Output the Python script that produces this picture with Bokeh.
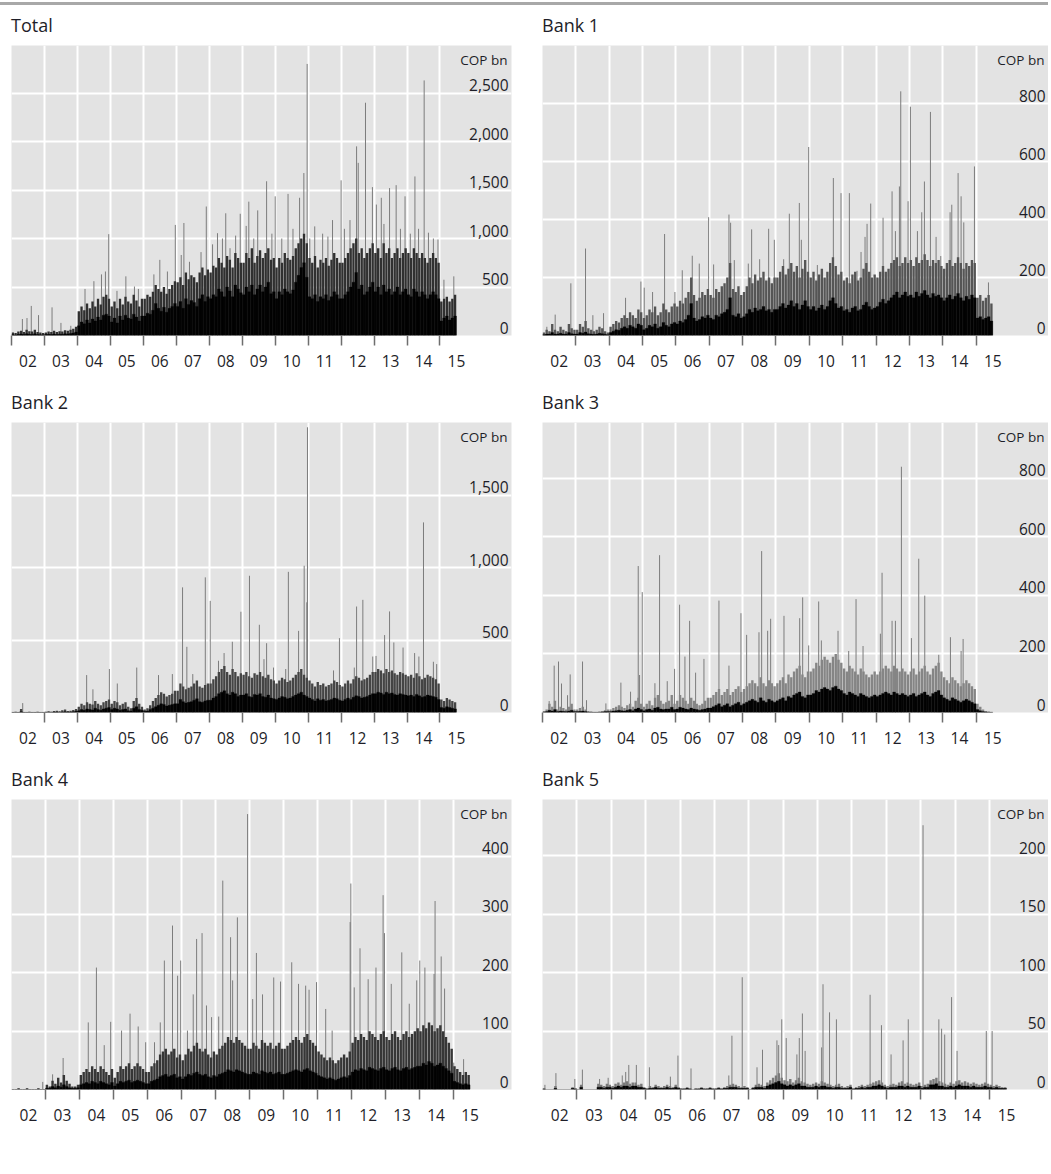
import numpy as np
from bokeh.plotting import figure
from bokeh.models import (Range1d, FixedTicker, LinearAxis, ColumnDataSource, Div)
from bokeh.layouts import column, row
from bokeh.core.properties import value
from bokeh.embed import file_html
from bokeh.resources import INLINE

# ---------------- data (COP bn), monthly Jan-2002 .. Jun-2015 ----------------
year_labels = ["02", "03", "04", "05", "06", "07", "08", "09", "10", "11", "12", "13", "14", "15"]
first_year = 2002

total_upper = [30, 25, 40, 50, 35, 60, 45, 40, 60, 35, 30, 25,
               30, 40, 35, 50, 35, 45, 40, 55, 50, 60, 70, 90,
               250, 300, 260, 330, 280, 350, 300, 380, 320, 400, 420, 380,
               300, 350, 280, 380, 320, 400, 350, 330, 420, 360, 300, 380,
               380, 420, 400, 450, 520, 480, 450, 500, 430, 480, 520, 560,
               550, 600, 520, 650, 580, 620, 600, 550, 650, 700, 620, 680,
               650, 720, 700, 800, 750, 700, 820, 780, 700, 850, 800, 750,
               750, 850, 800, 900, 750, 820, 880, 800, 850, 900, 780, 800,
               700, 800, 750, 850, 800, 780, 820, 900, 950, 1000, 1050, 950,
               800, 750, 820, 700, 780, 750, 800, 720, 780, 850, 800, 750,
               750, 800, 850, 900, 950, 1000, 850, 900, 800, 850, 900, 950,
               850, 900, 800, 950, 850, 900, 800, 850, 900, 800, 850, 900,
               850, 800, 900, 850, 800, 850, 800, 750, 800, 850, 800, 750,
               350, 380, 400, 350, 380, 420]
total_base = [8, 6, 12, 15, 10, 18, 12, 10, 18, 10, 8, 6,
              10, 12, 10, 15, 10, 14, 12, 18, 16, 20, 25, 35,
              100, 140, 120, 160, 130, 170, 150, 190, 160, 210, 220, 200,
              140, 180, 130, 200, 160, 210, 180, 170, 220, 190, 150, 200,
              200, 230, 220, 260, 330, 280, 250, 290, 240, 280, 300, 330,
              300, 350, 280, 380, 320, 360, 340, 300, 380, 420, 350, 400,
              380, 420, 400, 480, 450, 400, 500, 460, 400, 520, 480, 440,
              420, 500, 450, 520, 420, 480, 520, 450, 500, 550, 430, 450,
              380, 450, 420, 480, 450, 430, 470, 550, 620, 700, 750, 600,
              400, 380, 420, 350, 400, 380, 420, 360, 400, 450, 420, 380,
              380, 420, 450, 500, 550, 650, 480, 520, 420, 450, 500, 550,
              450, 500, 420, 520, 450, 480, 420, 450, 500, 420, 450, 480,
              420, 400, 480, 450, 400, 450, 420, 380, 420, 450, 420, 380,
              150, 180, 200, 160, 180, 200]
total_spike_t = [2002.33, 2002.47, 2002.60, 2002.82, 2003.23, 2003.50, 2003.80,
                 2004.23, 2004.50, 2004.73, 2004.85, 2004.95,
                 2005.20, 2005.47, 2005.73, 2005.85,
                 2006.32, 2006.50, 2006.73, 2006.97,
                 2007.15, 2007.23, 2007.40, 2007.75, 2007.91,
                 2008.10, 2008.25, 2008.40, 2008.50, 2008.63, 2008.80, 2008.94,
                 2009.12, 2009.20, 2009.35, 2009.47, 2009.74, 2009.90, 2010.00,
                 2010.20, 2010.39, 2010.54, 2010.74, 2010.87, 2010.97,
                 2011.05, 2011.20, 2011.44, 2011.60, 2011.74, 2012.00,
                 2012.10, 2012.27, 2012.47, 2012.52, 2012.74, 2012.95,
                 2013.07, 2013.22, 2013.30, 2013.47, 2013.67, 2013.80, 2013.94,
                 2014.10, 2014.24, 2014.35, 2014.52, 2014.65, 2014.80, 2014.94,
                 2015.12, 2015.42]
total_spike_v = [170, 180, 305, 210, 290, 130, 100,
                 480, 560, 630, 660, 1045,
                 460, 610, 505, 480,
                 630, 780, 660, 1140,
                 830, 1160, 760, 860, 1330,
                 940, 1055, 1000, 1260, 900, 1030, 1255,
                 1130, 1380, 1000, 1290, 1590, 1050, 1435,
                 1000, 1460, 1100, 1420, 1675, 2800,
                 1000, 1125, 1050, 1020, 1190, 1600,
                 1100, 1190, 1950, 1780, 2400, 1530,
                 1350, 1420, 1150, 1520, 1550, 1100, 1435,
                 1050, 1640, 1100, 2630, 1060, 1000, 990,
                 575, 610]

bank1_upper = [10, 20, 15, 40, 20, 15, 30, 20, 15, 40, 25, 20,
               20, 40, 30, 50, 25, 20, 15, 20, 30, 25, 15, 10,
               30, 40, 50, 45, 60, 70, 60, 80, 70, 60, 90, 80,
               60, 70, 90, 80, 100, 70, 80, 110, 90, 80, 100, 110,
               100, 120, 110, 130, 150, 200, 140, 120, 130, 150, 140, 160,
               140, 130, 160, 150, 170, 180, 200, 250, 160, 150, 170, 140,
               150, 170, 200, 180, 210, 190, 200, 220, 190, 200, 180, 200,
               200, 220, 240, 210, 230, 250, 220, 240, 200, 230, 260, 220,
               200, 220, 190, 210, 230, 200, 220, 250, 270, 240, 210, 220,
               190, 200, 180, 210, 220, 190, 200, 230, 250, 220, 200, 210,
               200, 220, 240, 220, 230, 250, 260, 270, 240, 250, 270, 250,
               260, 240, 270, 250, 260, 280, 260, 240, 260, 250, 260, 240,
               230, 250, 260, 240, 250, 270, 250, 230, 250, 240, 260, 250,
               130, 140, 120, 130, 140, 110]
bank1_base = [3, 5, 5, 10, 5, 5, 8, 5, 5, 10, 6, 5,
              5, 10, 8, 12, 6, 5, 4, 5, 8, 6, 4, 3,
              10, 15, 20, 18, 25, 30, 25, 35, 30, 25, 40, 35,
              20, 25, 35, 30, 40, 25, 30, 45, 35, 30, 40, 45,
              40, 50, 45, 55, 70, 110, 60, 50, 55, 65, 60, 70,
              60, 55, 70, 65, 75, 80, 90, 130, 70, 65, 75, 60,
              65, 75, 90, 80, 95, 85, 90, 100, 85, 90, 80, 90,
              90, 100, 110, 95, 105, 120, 100, 110, 90, 105, 120, 100,
              90, 100, 85, 95, 105, 90, 100, 120, 130, 110, 95, 100,
              85, 90, 80, 95, 100, 85, 90, 105, 115, 100, 90, 95,
              100, 115, 125, 110, 120, 130, 140, 150, 130, 140, 150, 135,
              140, 130, 150, 135, 145, 155, 140, 130, 145, 135, 140, 130,
              120, 130, 140, 125, 135, 145, 130, 120, 135, 125, 140, 130,
              60, 65, 55, 60, 65, 50]
bank1_spike_t = [2002.13, 2002.38, 2002.85, 2003.29, 2003.51, 2003.83,
                 2004.49, 2004.95, 2005.05, 2005.30, 2005.66, 2005.97,
                 2006.19, 2006.49, 2006.70, 2006.98,
                 2007.13, 2007.59, 2007.64, 2007.75,
                 2008.17, 2008.27, 2008.51, 2008.78, 2008.95,
                 2009.23, 2009.40, 2009.70, 2009.76, 2009.98,
                 2010.24, 2010.72, 2010.95,
                 2011.20, 2011.43, 2011.55, 2011.67, 2011.73, 2011.84,
                 2012.21, 2012.48, 2012.58, 2012.70, 2012.74, 2012.96,
                 2013.03, 2013.24, 2013.37, 2013.45, 2013.63, 2013.80, 2013.94,
                 2014.22, 2014.27, 2014.46, 2014.55, 2014.63, 2014.87, 2014.95,
                 2015.37]
bank1_spike_v = [30, 72, 180, 300, 70, 77,
                 130, 186, 165, 150, 350, 150,
                 225, 275, 248, 408,
                 245, 417, 389, 260,
                 248, 366, 263, 368, 330,
                 263, 420, 457, 330, 650,
                 243, 543, 491,
                 491, 223, 288, 340, 385, 455,
                 406, 497, 360, 514, 842, 463,
                 789, 360, 425, 531, 771, 340, 274,
                 425, 451, 560, 480, 390, 246, 583,
                 183]

bank2_upper = [3, 5, 4, 25, 4, 3, 5, 4, 3, 5, 4, 3,
               5, 8, 6, 10, 12, 8, 15, 20, 10, 12, 18, 25,
               40, 60, 50, 70, 60, 55, 80, 60, 50, 70, 80, 90,
               60, 80, 70, 50, 60, 70, 40, 30, 80, 100, 60, 40,
               20, 30, 50, 80, 100, 120, 140, 130, 110, 120, 130, 150,
               150, 200, 180, 160, 170, 180, 200, 220, 180, 170, 190, 200,
               200, 230, 250, 280, 300, 320, 280, 260, 300, 280, 250, 270,
               260, 280, 250, 240, 270, 260, 280, 250, 240, 260, 230, 220,
               200, 220, 240, 230, 210, 220, 240, 260, 280, 300, 260, 240,
               220, 200, 180, 210, 190, 200, 180, 190, 200, 220, 210, 190,
               180, 200, 220, 200, 230, 250, 240, 220, 230, 240, 260, 280,
               280, 300, 290, 270, 300, 280, 290, 270, 260, 280, 270, 260,
               250, 260, 240, 270, 250, 230, 240, 260, 250, 240, 230, 200,
               90, 80, 100, 90, 80, 70]
bank2_base = [1, 1, 1, 5, 1, 1, 1, 1, 1, 1, 1, 1,
              1, 2, 2, 3, 3, 2, 4, 5, 3, 4, 5, 8,
              12, 20, 15, 25, 20, 18, 30, 20, 15, 25, 30, 35,
              20, 30, 25, 15, 20, 25, 12, 10, 30, 40, 20, 15,
              8, 10, 20, 30, 40, 50, 60, 55, 45, 50, 55, 60,
              60, 90, 75, 65, 70, 75, 85, 95, 75, 70, 80, 85,
              85, 100, 110, 130, 140, 150, 130, 120, 140, 130, 110, 120,
              120, 130, 110, 105, 125, 120, 130, 110, 105, 120, 100, 95,
              90, 100, 110, 105, 95, 100, 110, 120, 130, 140, 120, 110,
              100, 90, 80, 95, 85, 90, 80, 85, 90, 100, 95, 85,
              80, 90, 100, 90, 105, 115, 110, 100, 105, 110, 120, 130,
              130, 140, 135, 125, 140, 130, 135, 125, 120, 130, 125, 120,
              115, 120, 110, 125, 115, 105, 110, 120, 115, 110, 105, 90,
              35, 30, 40, 35, 30, 25]
bank2_spike_t = [2002.34, 2004.28, 2004.47, 2004.97, 2005.21, 2005.80,
                 2006.46, 2006.88, 2007.19, 2007.32, 2007.50, 2007.88,
                 2008.03, 2008.28, 2008.45, 2008.70, 2008.96,
                 2009.22, 2009.52, 2009.66, 2009.74, 2009.95,
                 2010.32, 2010.40, 2010.71, 2010.88, 2010.96, 2010.98,
                 2011.77, 2011.95, 2012.40, 2012.47, 2012.66, 2012.96,
                 2013.06, 2013.32, 2013.47, 2013.60, 2013.88,
                 2014.23, 2014.36, 2014.50, 2014.80, 2014.90]
bank2_spike_v = [65, 258, 160, 300, 200, 310,
                 258, 265, 863, 453, 265, 932,
                 770, 357, 410, 488, 695,
                 943, 605, 368, 478, 310,
                 300, 970, 563, 1012, 760, 1967,
                 290, 513, 310, 731, 777, 386,
                 390, 534, 697, 483, 448,
                 410, 386, 1311, 350, 334]

bank3_upper = [5, 10, 30, 20, 40, 10, 20, 15, 10, 20, 30, 10,
               10, 15, 20, 10, 5, 3, 2, 2, 3, 5, 8, 10,
               10, 15, 20, 25, 20, 15, 25, 30, 20, 40, 50, 30,
               20, 30, 40, 25, 50, 60, 40, 30, 35, 40, 60, 30,
               40, 60, 50, 40, 30, 50, 40, 30, 25, 30, 40, 50,
               50, 60, 70, 80, 60, 70, 80, 60, 70, 80, 90, 70,
               80, 90, 100, 110, 100, 90, 120, 100, 90, 110, 100, 90,
               100, 110, 120, 100, 130, 120, 140, 150, 160, 130, 120, 140,
               140, 150, 170, 160, 180, 190, 180, 170, 190, 200, 180, 170,
               150, 140, 160, 150, 140, 130, 150, 140, 130, 120, 130, 140,
               130, 140, 150, 160, 150, 140, 160, 150, 140, 150, 140, 130,
               140, 150, 130, 140, 150, 160, 140, 130, 150, 160, 170, 140,
               120, 110, 100, 120, 110, 100, 90, 100, 110, 100, 90, 80,
               30, 20, 10, 5, 3, 2]
bank3_base = [1, 3, 8, 5, 10, 3, 5, 4, 3, 5, 8, 3,
              3, 4, 5, 3, 1, 1, 1, 1, 1, 2, 3, 3,
              3, 5, 6, 8, 6, 5, 8, 10, 6, 12, 15, 10,
              6, 10, 12, 8, 15, 18, 12, 10, 12, 12, 18, 10,
              12, 18, 15, 12, 10, 15, 12, 10, 8, 10, 12, 15,
              15, 20, 25, 30, 20, 25, 30, 20, 25, 30, 35, 25,
              30, 35, 40, 45, 40, 35, 50, 40, 35, 45, 40, 35,
              40, 45, 50, 40, 55, 50, 60, 65, 70, 55, 50, 60,
              60, 65, 75, 70, 80, 85, 80, 75, 85, 90, 80, 75,
              65, 60, 70, 65, 60, 55, 65, 60, 55, 50, 55, 60,
              55, 60, 65, 70, 65, 60, 70, 65, 60, 65, 60, 55,
              60, 65, 55, 60, 65, 70, 60, 55, 65, 70, 75, 60,
              50, 45, 40, 50, 45, 40, 35, 40, 45, 40, 35, 30,
              10, 6, 3, 2, 1, 1]
bank3_spike_t = [2002.20, 2002.35, 2002.48, 2002.57, 2002.75, 2002.83,
                 2003.20, 2003.32, 2003.90,
                 2004.35, 2004.64, 2004.87, 2004.91, 2004.99,
                 2005.37, 2005.51, 2005.74, 2005.96,
                 2006.11, 2006.27, 2006.41, 2006.59, 2006.84,
                 2007.29, 2007.59, 2007.95,
                 2008.12, 2008.49, 2008.57, 2008.75, 2008.84,
                 2009.24, 2009.71, 2009.80, 2009.98,
                 2010.28, 2010.36, 2010.86,
                 2011.18, 2011.40, 2011.61,
                 2012.13, 2012.18, 2012.48, 2012.58, 2012.76,
                 2013.06, 2013.28, 2013.46, 2013.88,
                 2014.23, 2014.55, 2014.61]
bank3_spike_v = [39, 160, 174, 99, 59, 130,
                 174, 42, 31,
                 102, 71, 500, 128, 411,
                 100, 537, 107, 149,
                 368, 191, 313, 136, 183,
                 382, 160, 339,
                 265, 274, 551, 279, 320,
                 330, 322, 393, 229,
                 379, 246, 279,
                 210, 387, 227,
                 269, 477, 313, 313, 839,
                 254, 525, 399, 197,
                 257, 210, 251]

bank4_upper = [1, 1, 2, 1, 1, 2, 1, 1, 1, 2, 1, 1,
               8, 5, 15, 10, 20, 12, 25, 15, 10, 5, 5, 8,
               25, 30, 35, 30, 40, 35, 30, 40, 35, 30, 25, 35,
               20, 30, 40, 35, 40, 45, 35, 40, 45, 40, 35, 30,
               30, 40, 45, 50, 60, 65, 70, 60, 65, 70, 55, 60,
               50, 60, 70, 65, 75, 80, 70, 65, 70, 60, 55, 65,
               60, 70, 75, 80, 90, 85, 80, 90, 85, 80, 75, 70,
               70, 80, 75, 70, 85, 80, 75, 80, 70, 75, 80, 70,
               70, 75, 80, 85, 90, 85, 80, 90, 95, 85, 80, 75,
               65, 60, 55, 50, 55, 50, 45, 50, 55, 60, 55, 65,
               80, 90, 85, 95, 90, 85, 100, 95, 90, 85, 95, 100,
               90, 85, 95, 100, 90, 85, 95, 100, 90, 95, 100, 105,
               100, 110, 105, 115, 110, 100, 105, 110, 100, 90, 80, 70,
               40, 35, 30, 25, 30, 25]
bank4_base = [0, 0, 0.5, 0, 0, 0.5, 0, 0, 0, 0.5, 0, 0,
              2, 2, 5, 3, 6, 4, 8, 5, 3, 2, 2, 3,
              8, 10, 12, 10, 14, 12, 10, 14, 12, 10, 8, 12,
              6, 10, 14, 12, 14, 16, 12, 14, 16, 14, 12, 10,
              10, 14, 16, 18, 22, 24, 26, 22, 24, 26, 20, 22,
              18, 22, 26, 24, 28, 30, 26, 24, 26, 22, 20, 24,
              22, 26, 28, 30, 34, 32, 30, 34, 32, 30, 28, 26,
              26, 30, 28, 26, 32, 30, 28, 30, 26, 28, 30, 26,
              26, 28, 30, 32, 34, 32, 30, 34, 36, 32, 30, 28,
              24, 22, 20, 18, 20, 18, 16, 18, 20, 22, 20, 24,
              30, 34, 32, 36, 34, 32, 38, 36, 34, 32, 36, 38,
              34, 32, 36, 38, 34, 32, 36, 38, 34, 36, 38, 40,
              40, 45, 42, 48, 45, 40, 42, 45, 40, 36, 32, 28,
              14, 12, 10, 8, 10, 8]
bank4_spike_t = [2002.92, 2003.21, 2003.52,
                 2004.26, 2004.50, 2004.73, 2004.92,
                 2005.24, 2005.49, 2005.73, 2005.95,
                 2006.21, 2006.38, 2006.50, 2006.74, 2006.89, 2006.98,
                 2007.18, 2007.35, 2007.45, 2007.61, 2007.74, 2007.89,
                 2008.10, 2008.22, 2008.45, 2008.51, 2008.65, 2008.95,
                 2009.10, 2009.21, 2009.39, 2009.72, 2009.92,
                 2010.25, 2010.45, 2010.66, 2010.76, 2010.98,
                 2011.25, 2011.44, 2011.97, 2011.99,
                 2012.09, 2012.26, 2012.50, 2012.73, 2012.94, 2012.98,
                 2013.18, 2013.49, 2013.71, 2013.93,
                 2014.02, 2014.17, 2014.44, 2014.47, 2014.65, 2014.75,
                 2015.02, 2015.31]
bank4_spike_v = [13, 26, 54,
                 115, 209, 76, 116,
                 101, 130, 108, 81,
                 81, 115, 221, 281, 195, 221,
                 101, 163, 258, 268, 144, 124,
                 125, 358, 261, 187, 295, 472,
                 155, 234, 163, 192, 185,
                 218, 181, 178, 171, 184,
                 138, 101, 287, 353,
                 175, 242, 189, 209, 333, 268,
                 181, 235, 147, 187,
                 221, 209, 198, 323, 228, 173,
                 46, 52]

bank5_upper = [1, 0, 0, 0, 3, 0, 0, 0, 0, 0, 2, 1,
               0, 4, 0, 0, 0, 0, 0, 5, 4, 3, 5, 4,
               3, 5, 6, 4, 6, 7, 5, 6, 6, 4, 5, 2,
               1, 3, 2, 4, 3, 2, 3, 4, 3, 2, 4, 2,
               1, 1, 2, 1, 0, 1, 1, 2, 1, 1, 2, 1,
               1, 2, 1, 2, 3, 4, 5, 4, 3, 2, 3, 2,
               0, 2, 4, 5, 4, 3, 6, 8, 10, 12, 14, 10,
               8, 7, 9, 6, 8, 10, 7, 6, 5, 4, 5, 6,
               5, 7, 6, 5, 4, 3, 4, 5, 3, 2, 3, 4,
               1, 2, 3, 4, 3, 4, 5, 6, 7, 8, 6, 4,
               3, 4, 5, 4, 6, 7, 5, 6, 5, 4, 5, 6,
               3, 4, 5, 8, 9, 10, 7, 6, 5, 4, 6, 5,
               7, 8, 6, 7, 6, 5, 6, 5, 4, 5, 6, 5,
               4, 3, 4, 3, 2, 2]
bank5_base = [0.5, 0, 0, 0, 1, 0, 0, 0, 0, 0, 1, 0.5,
              0, 2, 0, 0, 0, 0, 0, 2, 2, 1, 2, 2,
              1, 2, 3, 2, 3, 3, 2, 3, 3, 2, 2, 1,
              0.5, 1, 1, 2, 1, 1, 1, 2, 1, 1, 2, 1,
              0.5, 0.5, 1, 0.5, 0, 0.5, 0.5, 1, 0.5, 0.5, 1, 0.5,
              0.5, 1, 0.5, 1, 1, 2, 2, 2, 1, 1, 1, 1,
              0, 1, 2, 2, 2, 1, 3, 4, 5, 6, 7, 5,
              4, 3, 4, 3, 4, 5, 3, 3, 2, 2, 2, 3,
              2, 3, 3, 2, 2, 1, 2, 2, 1, 1, 1, 2,
              0.5, 1, 1, 2, 1, 2, 2, 3, 3, 4, 3, 2,
              1, 2, 2, 2, 3, 3, 2, 3, 2, 2, 2, 3,
              1, 2, 2, 4, 4, 5, 3, 3, 2, 2, 3, 2,
              3, 4, 3, 3, 3, 2, 3, 2, 2, 2, 3, 2,
              2, 1, 2, 1, 1, 1]
bank5_spike_t = [2002.07, 2002.39, 2002.94, 2003.16, 2003.66, 2003.91,
                 2004.32, 2004.42, 2004.51, 2004.73, 2005.11, 2005.72, 2005.94,
                 2006.32, 2007.42, 2007.51, 2007.81,
                 2008.24, 2008.40, 2008.82, 2008.87, 2008.96,
                 2009.09, 2009.40, 2009.47, 2009.56, 2009.64,
                 2010.12, 2010.16, 2010.35, 2010.55,
                 2011.53, 2011.86, 2012.14, 2012.49, 2012.64,
                 2013.07, 2013.53, 2013.61, 2013.70, 2013.90,
                 2014.06, 2014.91, 2015.08]
bank5_spike_v = [4, 14, 9, 17, 9, 10,
                 12, 15, 21, 21, 19, 11, 29,
                 18, 12, 46, 96,
                 19, 34, 42, 38, 60,
                 44, 30, 44, 65, 33,
                 36, 90, 66, 60,
                 81, 55, 30, 42, 60,
                 226, 60, 52, 47, 79,
                 33, 50, 50]

# ---------------- styling ----------------
FONT = "Open Sans"
BG = "#e3e3e3"
TXT = "#1e1e28"
FRAME_W_L = 500
FRAME_W_R = 506
LEFT_W = 11 + FRAME_W_L + 23
RIGHT_W = 8 + FRAME_W_R


def title_div(text, left_col):
    pad = 11 if left_col else 8
    return Div(text=(f'<div style="padding-top:9px;padding-left:{pad}px;'
                     f'line-height:22px;white-space:nowrap">{text}</div>'),
               width=LEFT_W if left_col else RIGHT_W, height=31, margin=0,
               styles={"font-family": FONT, "font-size": "18px", "color": TXT})


def panel(upper, base, sp_t, sp_v, y_end, y_ticks, x_end, left_col,
          tick_first, mid_color):
    n = len(upper)
    xs = first_year + (np.arange(n) + 0.5) / 12.0
    p = figure(frame_width=FRAME_W_L if left_col else FRAME_W_R, frame_height=290,
               x_range=Range1d(first_year, x_end), y_range=Range1d(0, y_end),
               output_backend="svg", toolbar_location=None,
               x_axis_location=None, y_axis_location=None,
               min_border_left=11 if left_col else 8,
               min_border_right=23 if left_col else 0,
               min_border_top=9, min_border_bottom=47,
               background_fill_color=BG, border_fill_color="white",
               outline_line_color=None, margin=0)

    years = list(range(first_year, first_year + len(year_labels)))
    p.xgrid.ticker = FixedTicker(ticks=years[1:])
    p.ygrid.ticker = FixedTicker(ticks=y_ticks[1:])
    for g in (p.xgrid[0], p.ygrid[0]):
        g.grid_line_color = "white"
        g.grid_line_width = 2

    # spikes
    p.segment(x0=sp_t, y0=[0] * len(sp_t), x1=sp_t, y1=sp_v,
              line_color="#7c7c7c", line_width=1)
    # monthly mass
    src = ColumnDataSource(dict(x=xs, upper=upper, base=base))
    p.vbar(x="x", top="upper", width=0.85 / 12, source=src,
           fill_color=mid_color, line_color=None)
    p.vbar(x="x", top="base", width=1.0 / 12, source=src,
           fill_color="#030303", line_color="#030303", line_width=0.3)

    # y tick labels inside plot, right side
    lab = [f"{v:,}" for v in y_ticks]
    p.text(x=[x_end] * len(y_ticks), y=y_ticks, text=lab,
           text_align="right", text_baseline="bottom", x_offset=-3, y_offset=-2,
           text_font=value(FONT), text_font_size="15.5px", text_color=TXT)
    p.text(x=[x_end], y=[y_end], text=["COP bn"], text_align="right",
           text_baseline="top", x_offset=-4, y_offset=5,
           text_font=value(FONT), text_font_size="13.5px", text_color=TXT)

    # x axis: year labels at mid-year, tick marks (minor) at year boundaries
    tick_years = years if tick_first else years[1:]
    mids = [y + 0.5 for y in years]
    ax = LinearAxis(ticker=FixedTicker(ticks=mids, minor_ticks=tick_years),
                    major_label_overrides={m: l for m, l in zip(mids, year_labels)})
    ax.major_tick_out = 0
    ax.major_tick_in = 0
    ax.major_tick_line_color = None
    ax.minor_tick_out = 10
    ax.minor_tick_in = 0
    ax.minor_tick_line_color = "#6e6e6e"
    ax.minor_tick_line_width = 1.5
    ax.axis_line_color = None
    ax.major_label_standoff = 9
    ax.major_label_text_font = FONT
    ax.major_label_text_font_size = "15.5px"
    ax.major_label_text_color = TXT
    p.add_layout(ax, "below")
    return p


X_LONG = 2017.17
X_SHORT = 2016.72

p1 = panel(total_upper, total_base, total_spike_t, total_spike_v,
           2990, [0, 500, 1000, 1500, 2000, 2500], X_LONG, True, True, "#303030")
p2 = panel(bank1_upper, bank1_base, bank1_spike_t, bank1_spike_v,
           1000, [0, 200, 400, 600, 800], X_LONG, False, False, "#555555")
p3 = panel(bank2_upper, bank2_base, bank2_spike_t, bank2_spike_v,
           2000, [0, 500, 1000, 1500], X_LONG, True, False, "#444444")
p4 = panel(bank3_upper, bank3_base, bank3_spike_t, bank3_spike_v,
           990, [0, 200, 400, 600, 800], X_LONG, False, True, "#858585")
p5 = panel(bank4_upper, bank4_base, bank4_spike_t, bank4_spike_v,
           497, [0, 100, 200, 300, 400], X_SHORT, True, False, "#363636")
p6 = panel(bank5_upper, bank5_base, bank5_spike_t, bank5_spike_v,
           248, [0, 50, 100, 150, 200], X_SHORT, False, False, "#7a7a7a")

rule = Div(text="", width=LEFT_W + RIGHT_W, height=3, margin=(2, 0, 0, 0),
           styles={"background-color": "#a8a8a8"})


def cell(title, p, left_col):
    return column(title_div(title, left_col), p, spacing=0, margin=0)


layout = column(
    rule,
    row(cell("Total", p1, True), cell("Bank 1", p2, False), spacing=0, margin=0),
    row(cell("Bank 2", p3, True), cell("Bank 3", p4, False), spacing=0, margin=0),
    row(cell("Bank 4", p5, True), cell("Bank 5", p6, False), spacing=0, margin=0),
    spacing=0, margin=0)

open("out.html", "w").write(file_html(layout, INLINE))
